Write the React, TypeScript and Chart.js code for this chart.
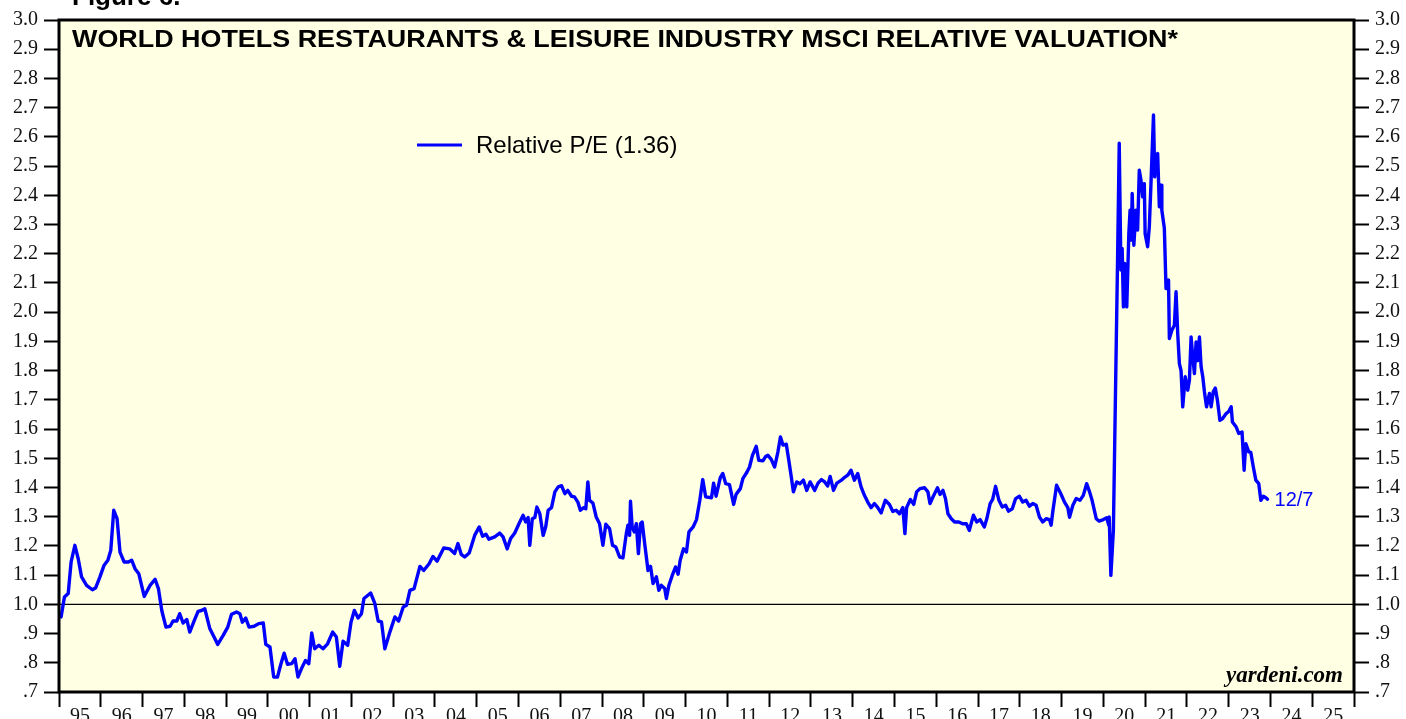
import { useEffect, useRef } from 'react';
import { Chart, registerables } from 'chart.js';

Chart.register(...registerables);

// Decimal-year dates of the observations
const dates: number[] = [
  1995.05, 1995.13, 1995.22, 1995.29, 1995.38, 1995.46, 1995.54, 1995.66, 1995.80, 1995.88, 1995.98,
  1996.08, 1996.17, 1996.24, 1996.31, 1996.39, 1996.46, 1996.56, 1996.66, 1996.74, 1996.82, 1996.91,
  1997.04, 1997.18, 1997.30, 1997.38, 1997.46, 1997.56, 1997.66, 1997.73, 1997.82, 1997.89, 1997.97,
  1998.06, 1998.13, 1998.24, 1998.33, 1998.41, 1998.49, 1998.61, 1998.80, 1998.93,
  1999.04, 1999.13, 1999.25, 1999.33, 1999.39, 1999.47, 1999.55, 1999.67, 1999.78, 1999.89, 1999.95,
  2000.05, 2000.14, 2000.23, 2000.31, 2000.39, 2000.47, 2000.57, 2000.65, 2000.72, 2000.82, 2000.90, 2000.98,
  2001.05, 2001.12, 2001.22, 2001.32, 2001.43, 2001.55, 2001.64, 2001.72, 2001.80, 2001.91, 2001.99,
  2002.07, 2002.16, 2002.24, 2002.30, 2002.46, 2002.56, 2002.64, 2002.72, 2002.80, 2002.92,
  2003.04, 2003.13, 2003.24, 2003.32, 2003.40, 2003.50, 2003.64, 2003.73, 2003.86, 2003.95,
  2004.05, 2004.21, 2004.35, 2004.47, 2004.55, 2004.63, 2004.71, 2004.82, 2004.95,
  2005.06, 2005.14, 2005.22, 2005.29, 2005.43, 2005.55, 2005.63, 2005.73, 2005.81, 2005.91,
  2006.03, 2006.11, 2006.17, 2006.23, 2006.27, 2006.33, 2006.39, 2006.44, 2006.51, 2006.59, 2006.65, 2006.71, 2006.79, 2006.87, 2006.95,
  2007.03, 2007.11, 2007.18, 2007.27, 2007.34, 2007.42, 2007.48, 2007.56, 2007.61, 2007.66, 2007.70, 2007.78, 2007.86, 2007.94,
  2008.02, 2008.09, 2008.18, 2008.25, 2008.33, 2008.42, 2008.50, 2008.58, 2008.62, 2008.66, 2008.68, 2008.72, 2008.77, 2008.82, 2008.87, 2008.92, 2008.96,
  2009.02, 2009.10, 2009.16, 2009.22, 2009.30, 2009.36, 2009.42, 2009.50, 2009.54, 2009.60, 2009.68, 2009.76, 2009.82, 2009.87, 2009.95,
  2010.02, 2010.08, 2010.18, 2010.26, 2010.34, 2010.41, 2010.48, 2010.62, 2010.67, 2010.73, 2010.83, 2010.89, 2010.96,
  2011.05, 2011.15, 2011.21, 2011.31, 2011.37, 2011.47, 2011.53, 2011.60, 2011.69, 2011.75, 2011.85, 2011.91, 2011.97,
  2012.05, 2012.13, 2012.21, 2012.27, 2012.33, 2012.41, 2012.47, 2012.53, 2012.58, 2012.66, 2012.74, 2012.82, 2012.90, 2012.98,
  2013.09, 2013.17, 2013.25, 2013.33, 2013.40, 2013.46, 2013.54, 2013.62, 2013.73, 2013.80, 2013.88, 2013.96,
  2014.04, 2014.12, 2014.20, 2014.28, 2014.36, 2014.44, 2014.52, 2014.60, 2014.68, 2014.78, 2014.88, 2014.96,
  2015.04, 2015.12, 2015.20, 2015.25, 2015.29, 2015.38, 2015.46, 2015.53, 2015.61, 2015.72, 2015.80, 2015.85, 2015.93,
  2016.03, 2016.09, 2016.16, 2016.22, 2016.28, 2016.36, 2016.44, 2016.54, 2016.63, 2016.72, 2016.79, 2016.89, 2016.97,
  2017.05, 2017.15, 2017.21, 2017.29, 2017.35, 2017.42, 2017.50, 2017.58, 2017.66, 2017.73, 2017.82, 2017.90, 2017.99,
  2018.07, 2018.15, 2018.23, 2018.31, 2018.39, 2018.47, 2018.55, 2018.63, 2018.71, 2018.75, 2018.79, 2018.88, 2018.99,
  2019.07, 2019.15, 2019.19, 2019.27, 2019.35, 2019.44, 2019.52, 2019.60, 2019.67, 2019.73, 2019.83, 2019.90,
  2020.00, 2020.08, 2020.13, 2020.14, 2020.18, 2020.24, 2020.30, 2020.34, 2020.38, 2020.42, 2020.45, 2020.48, 2020.51, 2020.56,
  2020.61, 2020.64, 2020.67, 2020.69, 2020.73, 2020.78, 2020.82, 2020.86, 2020.90, 2020.94, 2020.98,
  2021.00, 2021.06, 2021.10, 2021.14, 2021.20, 2021.23, 2021.26, 2021.30, 2021.34, 2021.38, 2021.40, 2021.46, 2021.50, 2021.56,
  2021.58, 2021.64, 2021.70, 2021.74, 2021.78, 2021.82, 2021.86, 2021.90, 2021.96,
  2022.02, 2022.06, 2022.10, 2022.14, 2022.18, 2022.22, 2022.26, 2022.30, 2022.34, 2022.38, 2022.42, 2022.47, 2022.54, 2022.58,
  2022.63, 2022.68, 2022.73, 2022.79, 2022.85, 2022.94,
  2023.00, 2023.06, 2023.09, 2023.18, 2023.24, 2023.32, 2023.37, 2023.41, 2023.48, 2023.53, 2023.59, 2023.65, 2023.72, 2023.77,
  2023.83, 2023.89, 2023.93,
];

// Relative P/E values
const relPE: number[] = [
  0.957, 1.025, 1.037, 1.145, 1.202, 1.156, 1.094, 1.065, 1.050, 1.057, 1.094,
  1.134, 1.151, 1.185, 1.322, 1.293, 1.179, 1.145, 1.145, 1.151, 1.122, 1.105,
  1.027, 1.065, 1.086, 1.054, 0.979, 0.922, 0.925, 0.943, 0.943, 0.968, 0.936,
  0.948, 0.905, 0.945, 0.976, 0.979, 0.985, 0.917, 0.863, 0.894,
  0.922, 0.966, 0.974, 0.968, 0.939, 0.953, 0.922, 0.925, 0.934, 0.936, 0.863,
  0.854, 0.751, 0.751, 0.795, 0.833, 0.795, 0.797, 0.814, 0.751, 0.785, 0.808, 0.797,
  0.902, 0.848, 0.860, 0.848, 0.865, 0.905, 0.888, 0.788, 0.874, 0.860, 0.939,
  0.979, 0.953, 0.968, 1.020, 1.039, 1.003, 0.943, 0.940, 0.848, 0.905,
  0.957, 0.943, 0.991, 0.997, 1.048, 1.054, 1.130, 1.116, 1.139, 1.164,
  1.148, 1.193, 1.190, 1.174, 1.208, 1.171, 1.162, 1.176, 1.236,
  1.265, 1.233, 1.240, 1.223, 1.231, 1.244, 1.231, 1.190, 1.225, 1.244,
  1.282, 1.305, 1.282, 1.297, 1.202, 1.293, 1.297, 1.333, 1.310, 1.236, 1.265, 1.322, 1.331, 1.385, 1.402,
  1.406, 1.379, 1.390, 1.370, 1.368, 1.350, 1.322, 1.331, 1.327, 1.419, 1.356, 1.347, 1.299, 1.276,
  1.202, 1.274, 1.259, 1.202, 1.196, 1.162, 1.159, 1.242, 1.271, 1.236, 1.353, 1.265, 1.248, 1.276, 1.174, 1.276, 1.282,
  1.208, 1.116, 1.130, 1.071, 1.094, 1.048, 1.065, 1.054, 1.020, 1.065, 1.099, 1.128, 1.103, 1.151, 1.190,
  1.179, 1.248, 1.265, 1.290, 1.356, 1.427, 1.368, 1.365, 1.415, 1.370, 1.434, 1.448, 1.413,
  1.410, 1.342, 1.377, 1.396, 1.430, 1.453, 1.470, 1.510, 1.541, 1.493, 1.491, 1.505, 1.510,
  1.496, 1.470, 1.522, 1.573, 1.545, 1.548, 1.493, 1.436, 1.385, 1.419, 1.413, 1.425, 1.390, 1.419,
  1.390, 1.415, 1.427, 1.419, 1.405, 1.438, 1.390, 1.415, 1.425, 1.434, 1.442, 1.459,
  1.425, 1.448, 1.402, 1.373, 1.350, 1.331, 1.345, 1.331, 1.313, 1.356, 1.342, 1.318,
  1.322, 1.310, 1.331, 1.242, 1.331, 1.359, 1.342, 1.385, 1.396, 1.399, 1.385, 1.345, 1.370,
  1.399, 1.376, 1.390, 1.362, 1.310, 1.293, 1.282, 1.282, 1.276, 1.276, 1.253, 1.305, 1.282,
  1.290, 1.265, 1.293, 1.345, 1.359, 1.404, 1.356, 1.333, 1.339, 1.319, 1.327, 1.362, 1.370,
  1.350, 1.356, 1.336, 1.345, 1.339, 1.299, 1.282, 1.293, 1.290, 1.271, 1.318, 1.408, 1.376,
  1.350, 1.331, 1.298, 1.339, 1.362, 1.356, 1.373, 1.413, 1.385, 1.356, 1.293, 1.285,
  1.290, 1.296, 1.271, 1.299, 1.099, 1.253, 1.813, 2.178, 2.578, 2.144, 2.218, 2.018, 2.167, 2.018,
  2.269, 2.349, 2.247, 2.406, 2.229, 2.349, 2.281, 2.486, 2.452, 2.395, 2.440,
  2.269, 2.224, 2.292, 2.440, 2.675, 2.463, 2.526, 2.543, 2.361, 2.435, 2.349, 2.287, 2.081, 2.110,
  1.910, 1.938, 1.955, 2.070, 1.927, 1.824, 1.800, 1.676, 1.779,
  1.733, 1.767, 1.915, 1.847, 1.790, 1.898, 1.834, 1.915, 1.813, 1.779, 1.727, 1.676, 1.722, 1.676,
  1.727, 1.740, 1.699, 1.630, 1.635, 1.653,
  1.660, 1.676, 1.624, 1.607, 1.585, 1.590, 1.459, 1.550, 1.522, 1.520, 1.470, 1.425, 1.413, 1.356,
  1.370, 1.365, 1.360,
];

const xStart = 1995;
const xEnd = 2026;
const yMin = 0.7;
const yMax = 3.0;
const referenceLevel = 1.0;

const titleText = 'WORLD HOTELS RESTAURANTS & LEISURE INDUSTRY MSCI RELATIVE VALUATION*';
const legendLabel = 'Relative P/E (1.36)';
const endLabel = '12/7';
const figureLabel = 'Figure 6.';
const sourceLabel = 'yardeni.com';

const LINE_BLUE = '#0000ff';
const PLOT_BG = '#ffffe3';
const SANS = '"Liberation Sans", Arial, sans-serif';
const SERIF = '"Liberation Serif", "Times New Roman", serif';
const TITLE_WIDTH = 1106;

const fmtY = (v: number) => {
  const r = Math.round(v * 10) / 10;
  return r < 1 ? '.' + Math.round(r * 10) : r.toFixed(1);
};
const fmtX = (v: number) => (v >= xEnd ? '' : String(Math.round(v) % 100).padStart(2, '0'));

const decorPlugin = {
  id: 'decor',
  beforeDraw(chart: any) {
    const { ctx, chartArea: a, width, height } = chart;
    ctx.save();
    ctx.fillStyle = '#ffffff';
    ctx.fillRect(0, 0, width, height);
    ctx.fillStyle = PLOT_BG;
    ctx.fillRect(a.left, a.top, a.right - a.left, a.bottom - a.top);
    ctx.restore();
  },
  beforeDatasetsDraw(chart: any) {
    const { ctx, chartArea: a, scales } = chart;
    const y = scales.y.getPixelForValue(referenceLevel);
    ctx.save();
    ctx.strokeStyle = '#000';
    ctx.lineWidth = 1.2;
    ctx.beginPath();
    ctx.moveTo(a.left, y);
    ctx.lineTo(a.right, y);
    ctx.stroke();
    ctx.restore();
  },
  afterDatasetsDraw(chart: any) {
    const { ctx, chartArea: a, scales } = chart;
    ctx.save();
    // frame
    ctx.strokeStyle = '#000';
    ctx.lineWidth = 3;
    ctx.strokeRect(a.left, a.top, a.right - a.left, a.bottom - a.top);

    // title (stretched horizontally to the reference width)
    ctx.fillStyle = '#000';
    ctx.font = 'bold 23px ' + SANS;
    ctx.textBaseline = 'alphabetic';
    ctx.textAlign = 'left';
    const tw = ctx.measureText(titleText).width;
    ctx.save();
    ctx.translate(a.left + 13, a.top + 27);
    ctx.scale(TITLE_WIDTH / tw, 1);
    ctx.fillText(titleText, 0, 0);
    ctx.restore();

    // legend
    ctx.strokeStyle = LINE_BLUE;
    ctx.lineWidth = 3;
    ctx.beginPath();
    ctx.moveTo(417, 145);
    ctx.lineTo(462, 145);
    ctx.stroke();
    ctx.fillStyle = '#000';
    ctx.font = '24px ' + SANS;
    ctx.textBaseline = 'middle';
    ctx.fillText(legendLabel, 476, 146);

    // source
    ctx.font = 'italic bold 23px ' + SERIF;
    ctx.textAlign = 'right';
    ctx.textBaseline = 'alphabetic';
    ctx.fillText(sourceLabel, a.right - 11, a.bottom - 10);

    // end label
    const last = dates.length - 1;
    const lx = scales.x.getPixelForValue(dates[last]);
    const ly = scales.y.getPixelForValue(relPE[last]);
    ctx.fillStyle = LINE_BLUE;
    ctx.font = '20px ' + SANS;
    ctx.textAlign = 'left';
    ctx.textBaseline = 'middle';
    ctx.fillText(endLabel, lx + 7, ly + 1);

    // figure label (cut off at top)
    ctx.fillStyle = '#000';
    ctx.font = 'bold 26px ' + SANS;
    ctx.textBaseline = 'alphabetic';
    ctx.fillText(figureLabel, 72, 5);
    ctx.restore();
  },
};

export default function App() {
  const canvasRef = useRef<HTMLCanvasElement | null>(null);

  useEffect(() => {
    if (!canvasRef.current) return;
    const points = dates.map((d, i) => ({ x: d, y: relPE[i] }));
    const yTicks = {
      stepSize: 0.1,
      autoSkip: false,
      color: '#111',
      padding: 6,
      font: { family: SERIF, size: 20 },
      callback: (v: any) => fmtY(Number(v)),
    };
    const yGrid = {
      drawOnChartArea: false,
      drawTicks: true,
      tickLength: 15,
      tickWidth: 2,
      tickColor: '#000',
      color: '#000',
    };
    const chart = new Chart(canvasRef.current, {
      type: 'line',
      data: {
        datasets: [
          {
            label: legendLabel,
            data: points,
            borderColor: LINE_BLUE,
            borderWidth: 3.4,
            pointRadius: 0,
            tension: 0,
            borderJoinStyle: 'round',
            borderCapStyle: 'round',
            fill: false,
          },
        ],
      },
      options: {
        animation: false,
        responsive: false,
        devicePixelRatio: 1,
        parsing: false,
        normalized: true,
        layout: { padding: { top: 20, left: 0, right: 0, bottom: 0 } },
        plugins: { legend: { display: false }, tooltip: { enabled: false }, title: { display: false } },
        scales: {
          x: {
            type: 'linear',
            position: 'bottom',
            min: xStart,
            max: xEnd,
            border: { display: false },
            grid: {
              drawOnChartArea: false,
              drawTicks: true,
              tickLength: 15,
              tickWidth: 2,
              tickColor: '#000',
              color: '#000',
            },
            ticks: {
              stepSize: 1,
              autoSkip: false,
              maxRotation: 0,
              minRotation: 0,
              labelOffset: 21,
              padding: -2,
              color: '#111',
              font: { family: SERIF, size: 20 },
              callback: (v: any) => fmtX(Number(v)),
            },
            afterFit: (s: any) => {
              s.height = 27;
            },
          },
          y: {
            type: 'linear',
            position: 'left',
            min: yMin,
            max: yMax,
            border: { display: false },
            grid: yGrid,
            ticks: yTicks,
            afterFit: (s: any) => {
              s.width = 59;
            },
          },
          y2: {
            type: 'linear',
            position: 'right',
            display: true,
            min: yMin,
            max: yMax,
            border: { display: false },
            grid: yGrid,
            ticks: yTicks,
            afterFit: (s: any) => {
              s.width = 52;
            },
          },
        },
      } as any,
      plugins: [decorPlugin],
    });
    return () => chart.destroy();
  }, []);

  return (
    <div style={{ position: 'absolute', left: 0, top: 0, width: 1406, height: 719, background: '#fff' }}>
      <canvas ref={canvasRef} width={1406} height={719} style={{ display: 'block' }} />
    </div>
  );
}
